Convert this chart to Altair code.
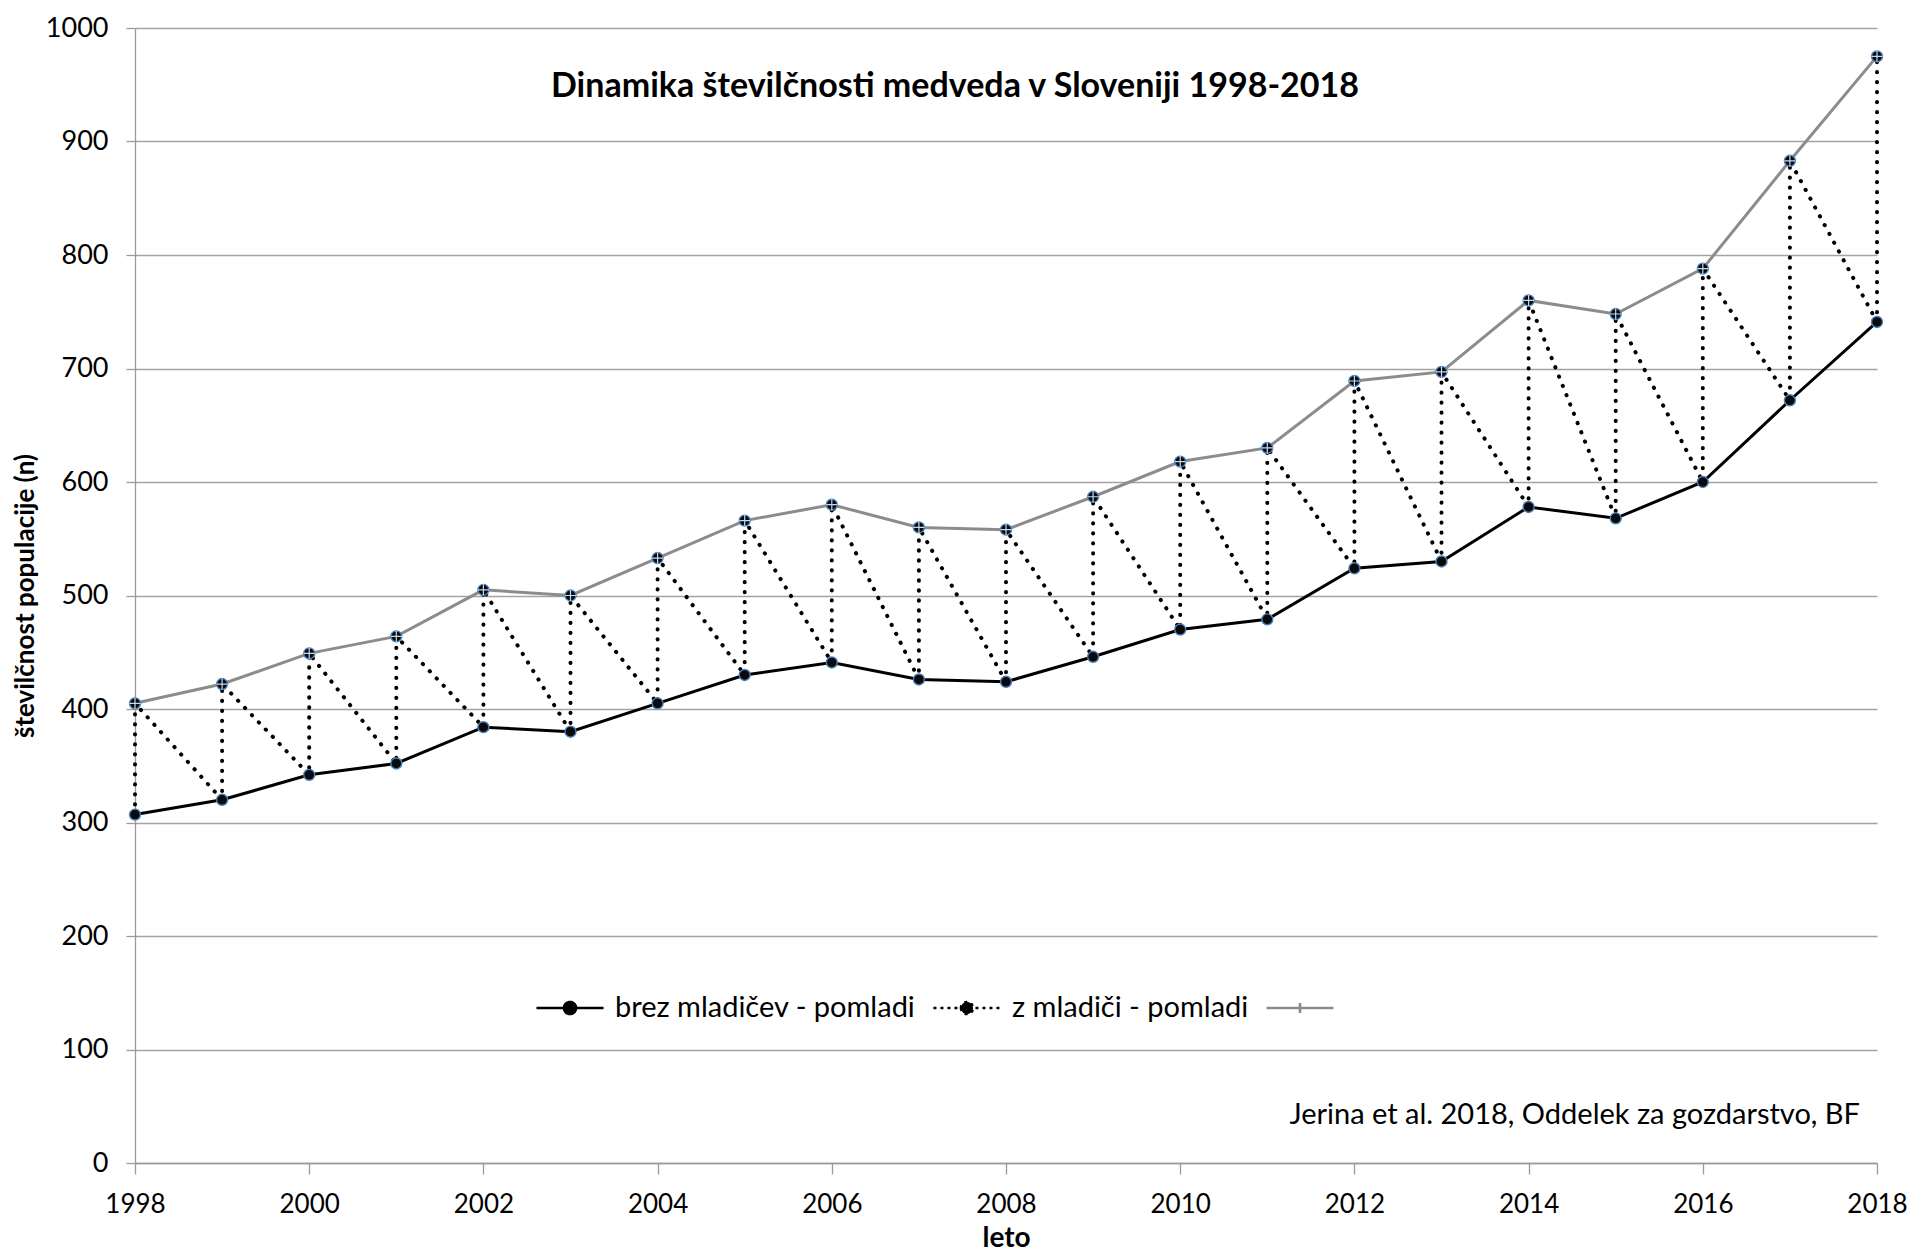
import altair as alt
import pandas as pd

# ---- data ----
years = list(range(1998, 2019))
z_mladici = [405, 422, 449, 464, 505, 500, 533, 566, 580, 560, 558, 587,
             618, 630, 689, 697, 760, 748, 788, 883, 975]
brez_mladicev = [307, 320, 342, 352, 384, 380, 405, 430, 441, 426, 424, 446,
                 470, 479, 524, 530, 578, 568, 600, 672, 741]

series_names = ["brez mladičev - pomladi", "z mladiči - pomladi", "s3"]
title_text = "Dinamika številčnosti medveda v Sloveniji 1998-2018"
credit_text = "Jerina et al. 2018, Oddelek za gozdarstvo, BF"
x_ticks = list(range(1998, 2019, 2))
y_ticks = list(range(0, 1001, 100))

FONT = "Lato"

upper_df = pd.DataFrame({"leto": years, "n": z_mladici})
lower_df = pd.DataFrame({"leto": years, "n": brez_mladicev})

zig_rows = []
for i, (yr, lo, hi) in enumerate(zip(years, brez_mladicev, z_mladici)):
    zig_rows.append({"leto": yr, "n": lo, "ord": 2 * i})
    zig_rows.append({"leto": yr, "n": hi, "ord": 2 * i + 1})
zig_df = pd.DataFrame(zig_rows)

legend_df = pd.DataFrame({"leto": [2008] * 3, "n": [-500] * 3, "serija": series_names})

X = alt.X(
    "leto:Q",
    scale=alt.Scale(domain=[1998, 2018], nice=False, zero=False),
    axis=alt.Axis(
        values=x_ticks, format="d", title="leto", grid=False,
        labelFont=FONT, titleFont=FONT, labelFontSize=26, titleFontSize=28,
        titleFontWeight="bold", labelColor="black", titleColor="black",
        tickSize=11, tickColor="#9a9a9a", tickWidth=1.3,
        domainColor="#9a9a9a", domainWidth=1.3,
        labelPadding=17, titlePadding=7, labelFlush=False, labelOverlap=False,
    ),
)
Y = alt.Y(
    "n:Q",
    scale=alt.Scale(domain=[0, 1000], nice=False),
    axis=alt.Axis(
        values=y_ticks, format="d", title="številčnost populacije (n)", grid=True,
        gridColor="#a3a3a3", gridWidth=1.3,
        labelFont=FONT, titleFont=FONT, labelFontSize=27, titleFontSize=26,
        titleFontWeight="bold", labelColor="black", titleColor="black",
        tickSize=9, tickColor="#9a9a9a", tickWidth=1.3,
        domainColor="#9a9a9a", domainWidth=1.3,
        labelPadding=18, titlePadding=7, labelOverlap=False,
    ),
)

gray_line = alt.Chart(upper_df).mark_line(color="#8c8c8c", strokeWidth=3).encode(x=X, y=Y)
black_line = alt.Chart(lower_df).mark_line(color="black", strokeWidth=3).encode(x=X, y=Y)
zig_line = alt.Chart(zig_df).mark_line(
    color="black", strokeWidth=4, strokeDash=[0.3, 9.7], strokeCap="round"
).encode(x=X, y=Y, order="ord:Q")
dots = alt.Chart(zig_df).mark_point(
    shape="circle", filled=True, size=120, fill="#0a0a0a", stroke="#4a7ebb",
    strokeWidth=1.4, opacity=1
).encode(x=X, y=Y)
crosses = alt.Chart(upper_df).mark_point(
    shape="M-1,0H1M0,-1V1", size=120, stroke="#c5dcf2", strokeWidth=1.2,
    filled=False, opacity=1
).encode(x=X, y=Y)

p_line_dot = "M-1,0H1M-0.18,0A0.18,0.18 0 1,0 0.18,0A0.18,0.18 0 1,0 -0.18,0Z"
p_line_plus = "M-1,0H1M0,-0.15V0.15"

leg = alt.Legend(
    title=None, orient="none", legendX=400, legendY=945, direction="horizontal",
    symbolSize=4500, symbolStrokeWidth=2.6, labelFont=FONT, labelFontSize=29,
    labelColor="black", labelOffset=10, columnPadding=12, labelLimit=700,
    padding=0, labelExpr="datum.label == 's3' ? '' : datum.label",
)
legend_layer = alt.Chart(legend_df).mark_point(
    filled=True, clip=True, strokeWidth=2.6, opacity=1
).encode(
    x=X, y=Y,
    fill=alt.Fill("serija:N", scale=alt.Scale(domain=series_names, range=["black", "black", "#8c8c8c"]), legend=leg),
    stroke=alt.Stroke("serija:N", scale=alt.Scale(domain=series_names, range=["black", "black", "#8c8c8c"]), legend=leg),
    shape=alt.Shape("serija:N", scale=alt.Scale(domain=series_names, range=[p_line_dot, p_line_dot, p_line_plus]), legend=leg),
    strokeDash=alt.StrokeDash("serija:N", scale=alt.Scale(domain=series_names, range=[[1, 0], [3, 4], [1, 0]]), legend=leg),
)

title_layer = alt.Chart(pd.DataFrame({"t": [title_text]})).mark_text(
    font=FONT, fontSize=34, fontWeight="bold", color="black", align="center", baseline="middle"
).encode(text="t:N", x=alt.value(820), y=alt.value(59))

credit_layer = alt.Chart(pd.DataFrame({"t": [credit_text]})).mark_text(
    font=FONT, fontSize=29, color="black", align="right", baseline="middle"
).encode(text="t:N", x=alt.value(1725), y=alt.value(1087))

chart = alt.layer(
    gray_line, black_line, zig_line, dots, crosses, legend_layer, title_layer, credit_layer
).properties(
    width=1742, height=1135,
    autosize=alt.AutoSizeParams(type="none"),
    padding={"left": 127, "top": 20, "right": 30, "bottom": 90},
    background="white",
).configure_view(stroke=None)

chart.save("out.html", embed_options={"renderer": "svg", "actions": False})
